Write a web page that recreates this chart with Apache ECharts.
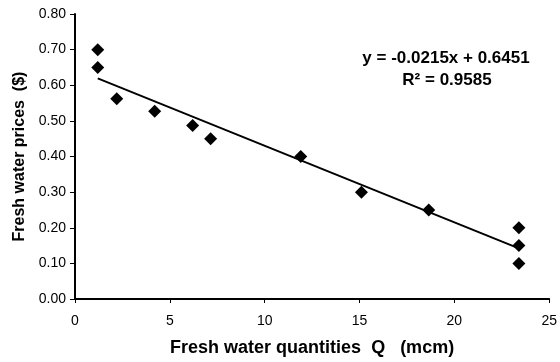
<!DOCTYPE html>
<html>
<head>
<meta charset="utf-8">
<script src="https://cdn.jsdelivr.net/npm/echarts@6/dist/echarts.min.js"></script>
<style>
  html, body { margin: 0; padding: 0; background: #fff; }
  #chart { width: 560px; height: 362px; }
</style>
</head>
<body>
<div id="chart"></div>
<script>
  // observed quantity (mcm) vs price ($)
  var quantities = [1.2, 1.2, 2.2, 4.2, 6.2, 7.15, 11.9, 15.1, 18.65, 23.4, 23.4, 23.4];
  var prices = [0.70, 0.65, 0.562, 0.527, 0.487, 0.45, 0.40, 0.30, 0.25, 0.20, 0.15, 0.10];

  // linear trend from the chart
  var slope = -0.0215;
  var intercept = 0.6451;
  var rSquared = 0.9585;

  var xTicks = [0, 5, 10, 15, 20, 25];
  var yTicks = [0, 0.1, 0.2, 0.3, 0.4, 0.5, 0.6, 0.7, 0.8];

  var points = quantities.map(function (q, i) { return [q, prices[i]]; });
  var xMin = Math.min.apply(null, quantities);
  var xMax = Math.max.apply(null, quantities);
  var trend = [
    [xMin, slope * xMin + intercept],
    [xMax, slope * xMax + intercept]
  ];

  var font = 'Liberation Sans, Arial, sans-serif';
  var chart = echarts.init(document.getElementById('chart'));

  chart.setOption({
    animation: false,
    grid: { left: 75, right: 9, top: 14, bottom: 62 },
    xAxis: {
      type: 'value',
      min: xTicks[0],
      max: xTicks[xTicks.length - 1],
      interval: 5,
      name: 'Fresh water quantities  Q   (mcm)',
      nameLocation: 'middle',
      nameGap: 40,
      nameTextStyle: { fontFamily: font, fontSize: 18, fontWeight: 'bold', color: '#000' },
      axisLine: { lineStyle: { color: '#000', width: 2 } },
      axisTick: { show: true, length: 4, lineStyle: { color: '#000' } },
      axisLabel: { fontFamily: font, fontSize: 14, color: '#000', margin: 15 },
      splitLine: { show: false }
    },
    yAxis: {
      type: 'value',
      min: yTicks[0],
      max: yTicks[yTicks.length - 1],
      interval: 0.1,
      name: 'Fresh water prices  ($)',
      nameLocation: 'middle',
      nameGap: 43,
      nameTextStyle: { fontFamily: font, fontSize: 16, fontWeight: 'bold', color: '#000' },
      axisLine: { show: true, lineStyle: { color: '#000', width: 2 } },
      axisTick: { show: true, length: 5, lineStyle: { color: '#000' } },
      axisLabel: {
        fontFamily: font, fontSize: 14, color: '#000', margin: 9,
        formatter: function (v) { return v.toFixed(2); }
      },
      splitLine: { show: false }
    },
    series: [
      {
        type: 'line',
        data: trend,
        symbol: 'none',
        lineStyle: { color: '#000', width: 2 },
        z: 1
      },
      {
        type: 'scatter',
        data: points,
        symbol: 'diamond',
        symbolSize: 13,
        itemStyle: { color: '#000', opacity: 1 },
        z: 2
      }
    ],
    graphic: [
      {
        type: 'text',
        x: 446, y: 58,
        style: {
          text: 'y = ' + slope.toFixed(4) + 'x + ' + intercept.toFixed(4),
          font: 'bold 17px ' + font, fill: '#000',
          align: 'center', verticalAlign: 'middle'
        }
      },
      {
        type: 'text',
        x: 447, y: 80,
        style: {
          text: 'R² = ' + rSquared.toFixed(4),
          font: 'bold 17px ' + font, fill: '#000',
          align: 'center', verticalAlign: 'middle'
        }
      }
    ]
  });
</script>
</body>
</html>
